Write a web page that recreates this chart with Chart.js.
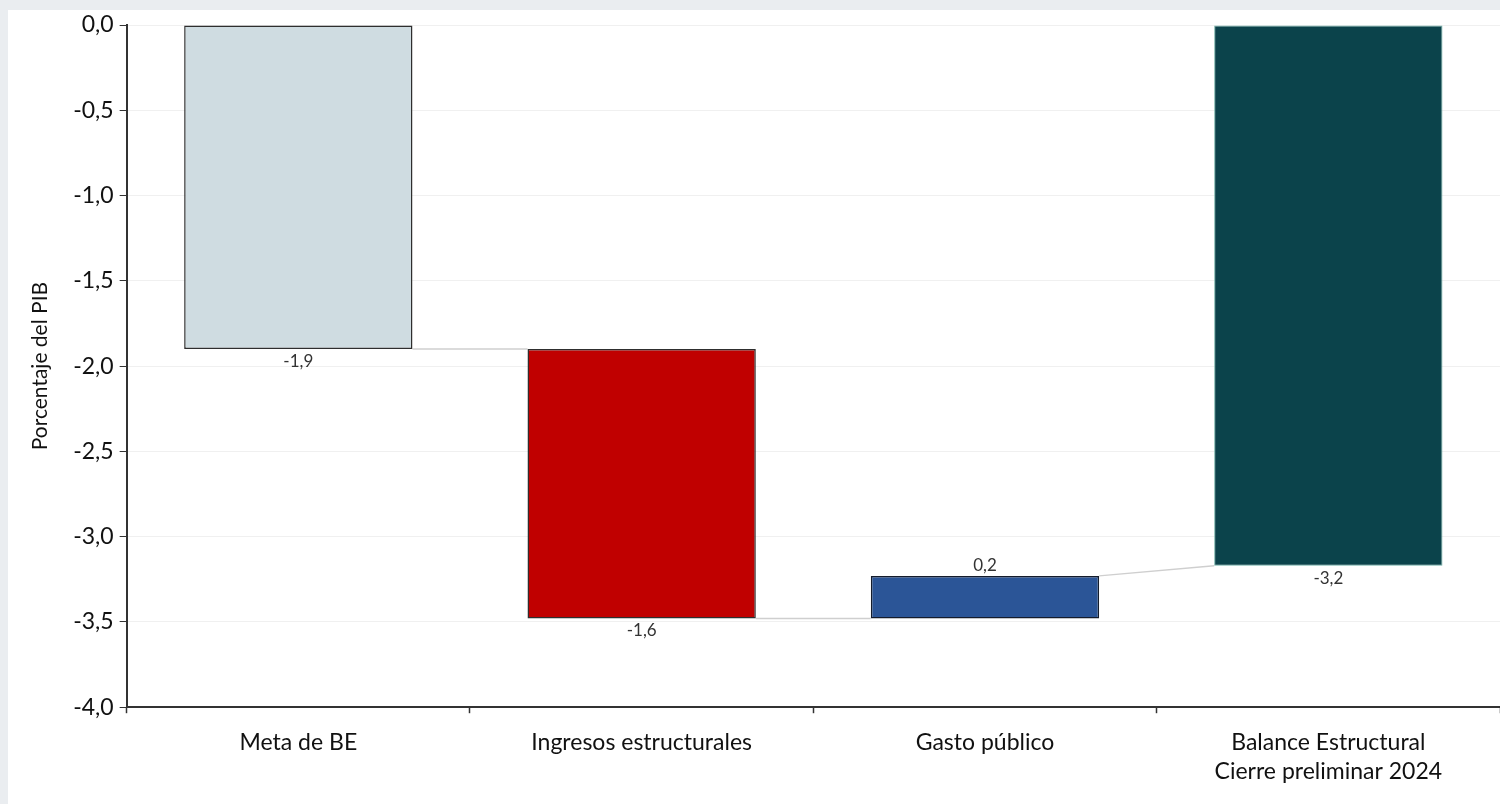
<!DOCTYPE html>
<html lang="es">
<head>
    <meta charset="UTF-8">
    <title>Balance Estructural</title>
    <script src="https://cdn.jsdelivr.net/npm/chart.js"></script>
    <style>
        html, body {
            margin: 0;
            padding: 0;
            background: #eaedf0;
            overflow: hidden;
        }
        #panel {
            position: absolute;
            left: 8px;
            top: 10px;
            right: 0;
            bottom: 0;
            background: #ffffff;
        }
        #chartBox {
            position: absolute;
            left: 0;
            top: 0;
            width: 1500px;
            height: 804px;
        }
    </style>
</head>
<body>

<div id="panel"></div>
<div id="chartBox">
    <canvas id="waterfall" width="1500" height="804"></canvas>
</div>

<script>
    // Categories and values (porcentaje del PIB)
    const categories = [
        'Meta de BE',
        'Ingresos estructurales',
        'Gasto público',
        ['Balance Estructural', 'Cierre preliminar 2024']
    ];
    const barStart = [0, -1.9, -3.48, 0];
    const barEnd = [-1.9, -3.48, -3.23, -3.17];
    const shownValues = [-1.9, -1.6, 0.2, -3.2];
    const labelAbove = [false, false, true, false];
    const yTicks = [0, -0.5, -1, -1.5, -2, -2.5, -3, -3.5, -4];

    const fillColors = ['#cfdce1', '#c00000', '#2b5597', '#0b434b'];
    const edgeColors = ['#2e2e2e', '#2e2e2e', '#141c2c', '#6fb0a6'];

    const fmt = v => v.toFixed(1).replace('.', ',');

    // thin grey connector lines between bars
    const connectors = {
        id: 'connectors',
        beforeDatasetsDraw(chart) {
            const meta = chart.getDatasetMeta(0);
            const y = chart.scales.y;
            const c = chart.ctx;
            c.save();
            c.strokeStyle = '#cfcfcf';
            c.lineWidth = 1.5;
            for (let i = 0; i < meta.data.length - 1; i++) {
                const a = meta.data[i], b = meta.data[i + 1];
                const last = i + 1 === meta.data.length - 1;
                const y1 = y.getPixelForValue(barEnd[i]);
                const y2 = y.getPixelForValue(last ? barEnd[i + 1] : barStart[i + 1]);
                c.beginPath();
                c.moveTo(a.x + a.width / 2, y1);
                c.lineTo(b.x - b.width / 2, y2);
                c.stroke();
            }
            c.restore();
        }
    };

    // value labels below / above each bar
    const valueLabels = {
        id: 'valueLabels',
        afterDatasetsDraw(chart) {
            const meta = chart.getDatasetMeta(0);
            const y = chart.scales.y;
            const c = chart.ctx;
            c.save();
            c.font = '17px Lato';
            c.fillStyle = '#333333';
            c.textAlign = 'center';
            meta.data.forEach((bar, i) => {
                if (labelAbove[i]) {
                    const top = y.getPixelForValue(Math.max(barStart[i], barEnd[i]));
                    c.textBaseline = 'bottom';
                    c.fillText(fmt(shownValues[i]), bar.x, top - 2);
                } else {
                    const bottom = y.getPixelForValue(Math.min(barStart[i], barEnd[i]));
                    c.textBaseline = 'top';
                    c.fillText(fmt(shownValues[i]), bar.x, bottom + 4);
                }
            });
            c.restore();
        }
    };

    const chart = new Chart(document.getElementById('waterfall'), {
        type: 'bar',
        data: {
            labels: categories,
            datasets: [{
                data: barStart.map((s, i) => [s, barEnd[i]]),
                backgroundColor: fillColors,
                borderColor: edgeColors,
                borderWidth: [1.5, 1.5, 1.5, 1],
                borderSkipped: false,
                categoryPercentage: 1,
                barPercentage: 0.665
            }]
        },
        options: {
            responsive: false,
            animation: false,
            layout: {
                padding: { top: 25, right: 0, left: 24, bottom: 3 }
            },
            plugins: {
                legend: { display: false },
                tooltip: { enabled: false }
            },
            scales: {
                x: {
                    grid: {
                        offset: true,
                        drawOnChartArea: false,
                        tickColor: '#333333',
                        tickLength: 6,
                        tickWidth: 1.5
                    },
                    border: { color: '#333333', width: 2 },
                    ticks: {
                        color: '#111111',
                        font: { family: 'Lato', size: 23, lineHeight: 1.3 },
                        padding: 14,
                        maxRotation: 0
                    }
                },
                y: {
                    min: -4,
                    max: 0,
                    afterBuildTicks: axis => {
                        axis.ticks = yTicks.map(v => ({ value: v }));
                    },
                    grid: {
                        color: '#f0f0f0',
                        tickColor: '#333333',
                        tickLength: 7,
                        lineWidth: 1
                    },
                    border: { color: '#333333', width: 2 },
                    ticks: {
                        color: '#111111',
                        font: { family: 'Lato', size: 23 },
                        padding: 6,
                        callback: v => fmt(v)
                    },
                    title: {
                        display: true,
                        text: 'Porcentaje del PIB',
                        color: '#111111',
                        font: { family: 'Lato', size: 21 },
                        padding: { bottom: 14 }
                    }
                }
            }
        },
        plugins: [connectors, valueLabels]
    });
</script>

</body>
</html>
